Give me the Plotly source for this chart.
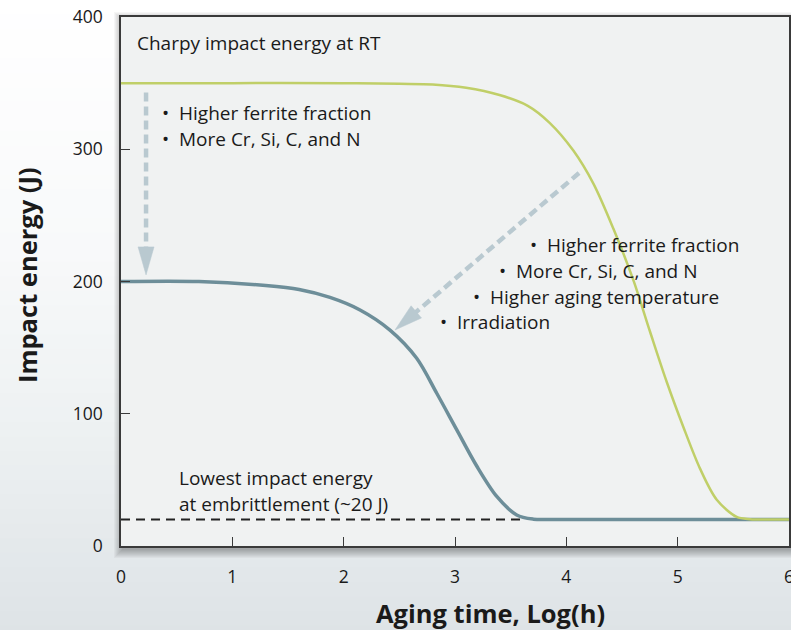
import plotly.graph_objects as go
import numpy as np

# ---------------- data ----------------
aging_x_high = [0, 1.0, 2.0, 2.5, 2.8, 3.1, 3.4, 3.65, 3.85, 4.063, 4.243, 4.422,
                4.602, 4.752, 4.902, 5.051, 5.201, 5.351, 5.53, 5.65, 5.8, 6.0]
energy_high = [350, 350, 350, 349.5, 349, 346.5, 341, 333, 320, 299, 274, 240,
               201, 162, 124, 90, 58.5, 35, 22, 20.3, 20, 20]

aging_x_low = [0, 0.7, 1.3, 1.6, 1.877, 2.147, 2.416, 2.656, 2.836, 3.015, 3.195,
               3.375, 3.554, 3.704, 3.85, 6.0]
energy_low = [200, 200, 197, 194, 188, 178.5, 163.3, 142, 115.5, 88, 60.5,
              37.5, 23.5, 20.3, 20, 20]

embrittle_x = [0, 3.62]
embrittle_y = [20, 20]

x_ticks = [0, 1, 2, 3, 4, 5, 6]
y_ticks = [0, 100, 200, 300, 400]

# arrows: (tail_x, tail_y, tip_x, tip_y)
arrow_vertical = (0.225, 343, 0.225, 205)
arrow_diagonal = (4.114, 282, 2.461, 163.3)

left_notes = ["Higher ferrite fraction", "More Cr, Si, C, and N"]
right_notes = ["Higher ferrite fraction", "More Cr, Si, C, and N",
               "Higher aging temperature", "Irradiation"]

# ---------------- layout geometry ----------------
W, H = 791, 630
ML, MT = 121, 17
PW, PH = 668, 529
MR, MB = W - ML - PW, H - MT - PH
XR, YR = [0, 6], [0, 400]
sx = PW / (XR[1] - XR[0])
sy = PH / (YR[1] - YR[0])

FONT = "Open Sans"
TXT = "#1a1a1a"
GREEN = "#c0cf68"
BLUE = "#6d8e99"
ARROW = "#b9c9d0"


def scr_x(p):  # screen px -> paper x
    return (p - ML) / PW


def scr_y(p):  # screen px -> paper y
    return (H - MB - p) / PH


fig = go.Figure()

fig.add_trace(go.Scatter(x=embrittle_x, y=embrittle_y, mode="lines",
                         line=dict(color="#222222", width=2, dash="9px,6px"),
                         hoverinfo="skip", showlegend=False))


def add_arrow(a):
    tx, ty, hx, hy = a
    dxp = (hx - tx) * sx
    dyp = (hy - ty) * sy
    L = np.hypot(dxp, dyp)
    ux, uy = dxp / L, dyp / L
    head_len, head_w = 28, 16
    bx, by = -ux * head_len, -uy * head_len
    nx, ny = -uy, ux
    base_x = hx + bx / sx
    base_y = hy + by / sy
    fig.add_trace(go.Scatter(x=[tx, hx + (bx + 2 * ux) / sx], y=[ty, hy + (by + 2 * uy) / sy],
                             mode="lines", line=dict(color=ARROW, width=4.5, dash="9px,5px"),
                             hoverinfo="skip", showlegend=False))
    px_ = [hx, base_x + nx * head_w / 2 / sx, base_x - nx * head_w / 2 / sx, hx]
    py_ = [hy, base_y + ny * head_w / 2 / sy, base_y - ny * head_w / 2 / sy, hy]
    fig.add_trace(go.Scatter(x=px_, y=py_, mode="lines", fill="toself",
                             fillcolor=ARROW, line=dict(color=ARROW, width=0.5),
                             hoverinfo="skip", showlegend=False))


add_arrow(arrow_vertical)
add_arrow(arrow_diagonal)

fig.add_trace(go.Scatter(x=aging_x_low, y=energy_low, mode="lines",
                         line=dict(color=BLUE, width=3.5, shape="spline", smoothing=0.9),
                         hoverinfo="skip", showlegend=False))
fig.add_trace(go.Scatter(x=aging_x_high, y=energy_high, mode="lines",
                         line=dict(color=GREEN, width=2.5, shape="spline", smoothing=0.9),
                         hoverinfo="skip", showlegend=False))

# ---------------- background shapes ----------------
shapes = []
stops = [(0, (255, 255, 255)), (250, (248, 249, 250)), (450, (236, 240, 241)), (640, (221, 227, 230))]
nb = 44
top, bot = 0, 640
for i in range(nb):
    y0p = top + i * (bot - top) / nb
    y1p = top + (i + 1) * (bot - top) / nb + 1
    yc = (y0p + y1p) / 2
    c = stops[-1][1]
    for j in range(len(stops) - 1):
        if stops[j][0] <= yc <= stops[j + 1][0]:
            t = (yc - stops[j][0]) / (stops[j + 1][0] - stops[j][0])
            c = [round(stops[j][1][k] + t * (stops[j + 1][1][k] - stops[j][1][k])) for k in range(3)]
            break
    shapes.append(dict(type="rect", xref="paper", yref="paper", layer="below",
                       x0=scr_x(-2), x1=scr_x(W + 20),
                       y0=scr_y(y1p), y1=scr_y(y0p),
                       fillcolor="rgb(%d,%d,%d)" % tuple(c), line=dict(width=0)))

# drop shadow (plot box on screen: 121..789 x 17..546)
for k in range(1, 10):
    shapes.append(dict(type="rect", xref="paper", yref="paper", layer="below",
                       x0=scr_x(121 - k + 2), x1=scr_x(789 + k + 1),
                       y0=scr_y(546 + k + 3), y1=scr_y(17 - k + 4),
                       fillcolor="rgba(0,0,0,0.035)", line=dict(width=0)))

shapes.append(dict(type="rect", xref="paper", yref="paper", layer="below",
                   x0=0, x1=1, y0=0, y1=1, fillcolor="#f0f2f2", line=dict(width=0)))

fig.update_layout(shapes=shapes)

# ---------------- annotations ----------------
ann = []
fs = 19
ann.append(dict(x=0.126, y=380, text="Charpy impact energy at RT", xanchor="left", yanchor="middle",
                showarrow=False, font=dict(family=FONT, size=fs, color=TXT)))
for i, t in enumerate(left_notes):
    ann.append(dict(x=0.35, y=[327.4, 307.8][i], text="•\u00a0\u00a0" + t, xanchor="left",
                    yanchor="middle", showarrow=False, font=dict(family=FONT, size=fs, color=TXT)))
rx = [3.656, 3.377, 3.144, 2.847]
ry = [227.6, 208.0, 188.5, 169.4]
for i, t in enumerate(right_notes):
    ann.append(dict(x=rx[i], y=ry[i], text="•\u00a0\u00a0" + t, xanchor="left",
                    yanchor="middle", showarrow=False, font=dict(family=FONT, size=fs, color=TXT)))
ann.append(dict(x=0.503, y=51.4, text="Lowest impact energy", xanchor="left", yanchor="middle",
                showarrow=False, font=dict(family=FONT, size=fs, color=TXT)))
ann.append(dict(x=0.503, y=31.8, text="at embrittlement (~20 J)", xanchor="left", yanchor="middle",
                showarrow=False, font=dict(family=FONT, size=fs, color=TXT)))

ann.append(dict(x=scr_x(490), y=scr_y(613), xref="paper", yref="paper",
                text="<b>Aging time, Log(h)</b>", showarrow=False, xanchor="center", yanchor="middle",
                font=dict(family=FONT, size=25.5, color=TXT)))
ann.append(dict(x=scr_x(27), y=scr_y(275), xref="paper", yref="paper",
                text="<b>Impact energy (J)</b>", showarrow=False, xanchor="center", yanchor="middle",
                textangle=-90, font=dict(family=FONT, size=25.5, color=TXT)))

fig.update_layout(annotations=ann)

axis_common = dict(showgrid=False, zeroline=False, showline=True, mirror=True,
                   linecolor="#3a3a3a", linewidth=1.5, ticks="inside", ticklen=9,
                   tickcolor="#3a3a3a", tickwidth=1.3, ticklabeloverflow="allow",
                   tickfont=dict(family=FONT, size=17.5, color=TXT))
fig.update_xaxes(range=XR, tickvals=x_ticks, ticktext=[str(v) for v in x_ticks],
                 ticklabelstandoff=14, **axis_common)
fig.update_yaxes(range=YR, tickvals=y_ticks, ticktext=[str(v) for v in y_ticks],
                 ticklabelstandoff=13, **axis_common)

fig.update_layout(width=W, height=H, margin=dict(l=ML, r=MR, t=MT, b=MB, autoexpand=False),
                  paper_bgcolor="#ffffff", plot_bgcolor="rgba(0,0,0,0)",
                  showlegend=False, font=dict(family=FONT, color=TXT))

fig.write_html("out.html", config={"displayModeBar": False},
               post_script="document.body.style.margin='0';document.body.style.overflow='hidden';")
